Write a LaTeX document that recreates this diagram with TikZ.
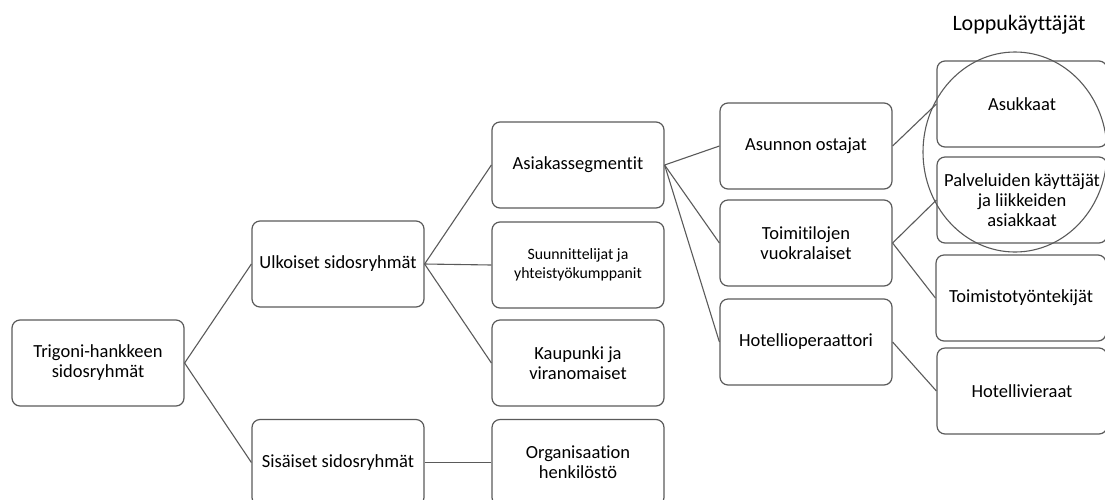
\documentclass[tikz,border=0pt]{standalone}
\usepackage{fontspec}
\setmainfont[Ligatures=NoCommon]{Carlito}
\definecolor{boxline}{RGB}{90,90,90}
\begin{document}
\begin{tikzpicture}[x=1pt,y=-1pt,
    box/.style={draw=boxline,line width=1.2pt,rounded corners=8pt,
      minimum width=172pt,minimum height=86pt,align=center,
      font=\fontsize{18.5}{20}\selectfont},
    link/.style={draw=boxline,line width=1.1pt}]
    \useasboundingbox (0,0) rectangle (1105,499);
    \clip (0,0) rectangle (1105,499);
    % first and second level
    \node[box] (trig) at (98,363) {Trigoni-hankkeen\\sidosryhmät};
    \node[box] (ulk) at (338,264) {Ulkoiset sidosryhmät};
    \node[box] (sis) at (338,462.5) {Sisäiset sidosryhmät};
    % third level
    \node[box] (asia) at (578,165) {Asiakassegmentit};
    \node[box,font=\fontsize{15.8}{19}\selectfont] (suun) at (578,265) {Suunnittelijat ja\\yhteistyökumppanit};
    \node[box] (kaup) at (578,363) {Kaupunki ja\\viranomaiset};
    \node[box] (org) at (578,462.5) {Organisaation\\henkilöstö};
    % fourth level
    \node[box] (asun) at (806,146) {Asunnon ostajat};
    \node[box] (toim) at (806,243) {Toimitilojen\\vuokralaiset};
    \node[box] (hotop) at (806,342) {Hotellioperaattori};
    % end users
    \node[font=\fontsize{22}{24}\selectfont] (lopp) at (1019,25) {Loppukäyttäjät};
    \node[box,minimum width=170pt] (asuk) at (1022,104) {Asukkaat};
    \node[box,minimum width=170pt] (palv) at (1022,200) {Palveluiden käyttäjät\\ja liikkeiden\\asiakkaat};
    \node[box,minimum width=170pt] (tyon) at (1021,298) {Toimistotyöntekijät};
    \node[box,minimum width=170pt] (hvier) at (1022,391) {Hotellivieraat};
    \draw[link] (trig.east) -- (ulk.west);
    \draw[link] (trig.east) -- (sis.west);
    \draw[link] (ulk.east) -- (asia.west);
    \draw[link] (ulk.east) -- (suun.west);
    \draw[link] (ulk.east) -- (kaup.west);
    \draw[link] (sis.east) -- (org.west);
    \draw[link] (asia.east) -- (asun.west);
    \draw[link] (asia.east) -- (toim.west);
    \draw[link] (asia.east) -- (hotop.west);
    \draw[link] (asun.east) -- (asuk.west);
    \draw[link] (toim.east) -- (palv.west);
    \draw[link] (toim.east) -- (tyon.west);
    \draw[link] (hotop.east) -- (hvier.west);
    \draw[link] (1015,152) ellipse (92 and 100);
  \end{tikzpicture}
\end{document}
